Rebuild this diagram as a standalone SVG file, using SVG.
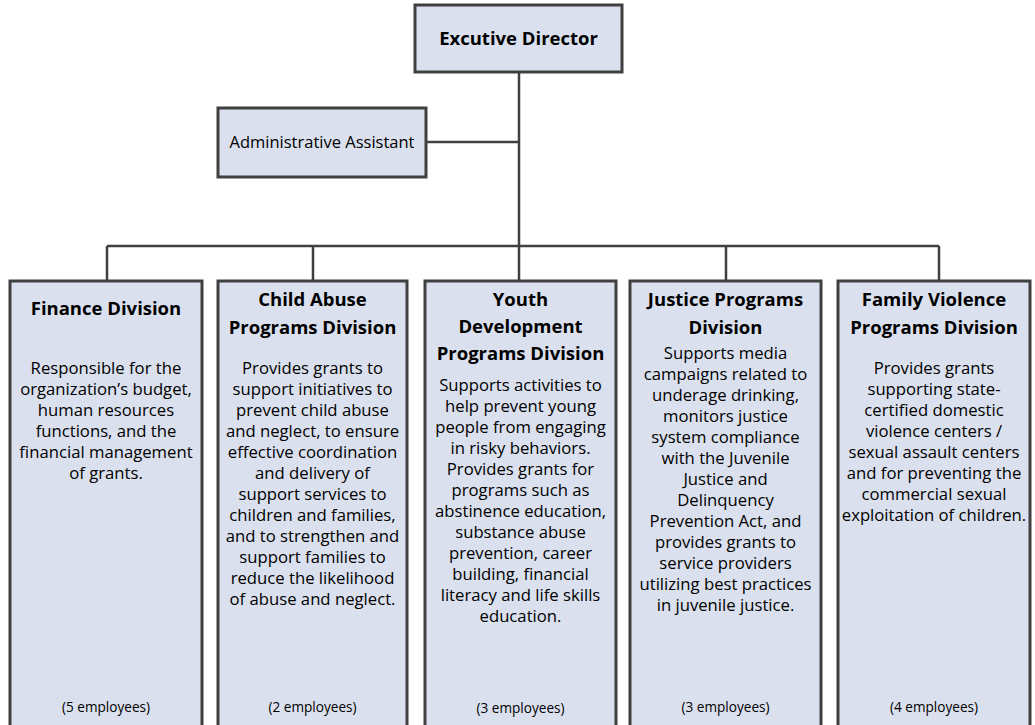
<svg xmlns="http://www.w3.org/2000/svg" width="1035" height="725" viewBox="0 0 1035 725">
<style>
.box{fill:#dbe0ee;stroke:#404040;stroke-width:3}
.con{fill:none;stroke:#404040;stroke-width:2.5}
text{font-family:"Open Sans","Liberation Sans",sans-serif;fill:#000;text-anchor:middle}
.t{font-weight:bold;font-size:18.5px}
.b{font-size:16.7px}
.e{font-size:13.6px}
.a{font-size:16.5px}
</style>
<rect width="1035" height="725" fill="#fff"/>
<g id="connectors">
<path class="con" d="M519 72V246M426 142H519M107 246H939M107 246V281M313 246V281M519 246V281M726 246V281M939 246V281"/>
</g>
<g id="exec">
<rect class="box" x="415" y="5" width="207" height="67"/>
<text class="t" x="518.5" y="45">Excutive Director</text>
</g>
<g id="admin">
<rect class="box" x="218" y="108" width="208" height="69"/>
<text class="a" x="322" y="148">Administrative Assistant</text>
</g>
<g id="finance">
<rect class="box" x="10" y="281" width="192" height="460"/>
<text class="t" x="106" y="315">Finance Division</text>
<text class="b" x="106" y="374">Responsible for the</text>
<text class="b" x="106" y="395">organization’s budget,</text>
<text class="b" x="106" y="416">human resources</text>
<text class="b" x="106" y="437">functions, and the</text>
<text class="b" x="106" y="458">financial management</text>
<text class="b" x="106" y="479">of grants.</text>
<text class="e" x="106" y="712">(5 employees)</text>
</g>
<g id="childabuse">
<rect class="box" x="218" y="281" width="189" height="460"/>
<text class="t" x="312.5" y="306">Child Abuse</text>
<text class="t" x="312.5" y="334">Programs Division</text>
<text class="b" x="312.5" y="374">Provides grants to</text>
<text class="b" x="312.5" y="395">support initiatives to</text>
<text class="b" x="312.5" y="416">prevent child abuse</text>
<text class="b" x="312.5" y="437">and neglect, to ensure</text>
<text class="b" x="312.5" y="458">effective coordination</text>
<text class="b" x="312.5" y="479">and delivery of</text>
<text class="b" x="312.5" y="500">support services to</text>
<text class="b" x="312.5" y="521">children and families,</text>
<text class="b" x="312.5" y="542">and to strengthen and</text>
<text class="b" x="312.5" y="563">support families to</text>
<text class="b" x="312.5" y="584">reduce the likelihood</text>
<text class="b" x="312.5" y="605">of abuse and neglect.</text>
<text class="e" x="312.5" y="712">(2 employees)</text>
</g>
<g id="youth">
<rect class="box" x="425" y="281" width="191" height="460"/>
<text class="t" x="520.5" y="306">Youth</text>
<text class="t" x="520.5" y="333">Development</text>
<text class="t" x="520.5" y="360">Programs Division</text>
<text class="b" x="520.5" y="391">Supports activities to</text>
<text class="b" x="520.5" y="412">help prevent young</text>
<text class="b" x="520.5" y="433">people from engaging</text>
<text class="b" x="520.5" y="454">in risky behaviors.</text>
<text class="b" x="520.5" y="475">Provides grants for</text>
<text class="b" x="520.5" y="496">programs such as</text>
<text class="b" x="520.5" y="517">abstinence education,</text>
<text class="b" x="520.5" y="538">substance abuse</text>
<text class="b" x="520.5" y="559">prevention, career</text>
<text class="b" x="520.5" y="580">building, financial</text>
<text class="b" x="520.5" y="601">literacy and life skills</text>
<text class="b" x="520.5" y="622">education.</text>
<text class="e" x="520.5" y="713">(3 employees)</text>
</g>
<g id="justice">
<rect class="box" x="630" y="281" width="191" height="460"/>
<text class="t" x="725.5" y="306">Justice Programs</text>
<text class="t" x="725.5" y="334">Division</text>
<text class="b" x="725.5" y="359">Supports media</text>
<text class="b" x="725.5" y="380">campaigns related to</text>
<text class="b" x="725.5" y="401">underage drinking,</text>
<text class="b" x="725.5" y="422">monitors justice</text>
<text class="b" x="725.5" y="443">system compliance</text>
<text class="b" x="725.5" y="464">with the Juvenile</text>
<text class="b" x="725.5" y="485">Justice and</text>
<text class="b" x="725.5" y="506">Delinquency</text>
<text class="b" x="725.5" y="527">Prevention Act, and</text>
<text class="b" x="725.5" y="548">provides grants to</text>
<text class="b" x="725.5" y="569">service providers</text>
<text class="b" x="725.5" y="590">utilizing best practices</text>
<text class="b" x="725.5" y="611">in juvenile justice.</text>
<text class="e" x="725.5" y="712">(3 employees)</text>
</g>
<g id="family">
<rect class="box" x="838" y="281" width="192" height="460"/>
<text class="t" x="934" y="306">Family Violence</text>
<text class="t" x="934" y="334">Programs Division</text>
<text class="b" x="934" y="374">Provides grants</text>
<text class="b" x="934" y="395">supporting state-</text>
<text class="b" x="934" y="416">certified domestic</text>
<text class="b" x="934" y="437">violence centers /</text>
<text class="b" x="934" y="458">sexual assault centers</text>
<text class="b" x="934" y="479">and for preventing the</text>
<text class="b" x="934" y="500">commercial sexual</text>
<text class="b" x="934" y="521">exploitation of children.</text>
<text class="e" x="934" y="712">(4 employees)</text>
</g>
</svg>
